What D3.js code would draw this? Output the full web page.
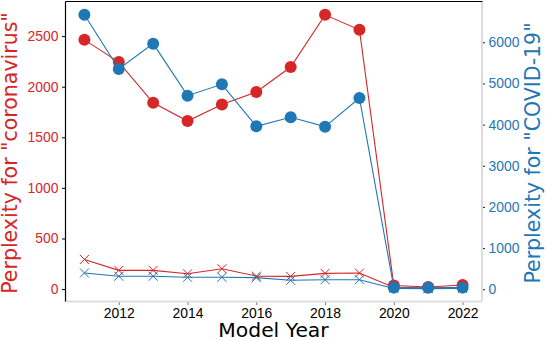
<!DOCTYPE html>
<html>
<head>
<meta charset="utf-8">
<script src="https://cdn.jsdelivr.net/npm/d3@7"></script>
<style>
  body{margin:0;background:#fff;}
  svg{display:block;font-family:"DejaVu Sans",sans-serif;}
</style>
</head>
<body>
<svg id="chart" width="546" height="340"></svg>
<script>
/* ---------- data ---------- */
const years       = [2011,2012,2013,2014,2015,2016,2017,2018,2019,2020,2021,2022];
const coronaDot   = [2463,2243,1841,1660,1825,1947,2194,2710,2562,35,20,40];   // left axis, circles
const coronaCross = [293,185,185,151,201,128,125,155,158,15,10,15];            // left axis, crosses
const covidDot    = [6670,5351,5966,4703,4979,3959,4178,3950,4647,40,35,40];   // right axis, circles
const covidCross  = [396,316,316,291,291,282,218,233,233,20,15,20];            // right axis, crosses
const xTicks      = [2012,2014,2016,2018,2020,2022];
const leftTicks   = [0,500,1000,1500,2000,2500];
const rightTicks  = [0,1000,2000,3000,4000,5000,6000];

const RED="#d62728", BLUE="#1f77b4";

/* ---------- layout ---------- */
const L=65.5, R=481.5, T=1.5, B=301.5;
const svg=d3.select("#chart");

const x =d3.scaleLinear().domain([2010.45,2022.55]).range([L,R]);
const yL=d3.scaleLinear().domain([-123,2842]).range([B,T]);
const yR=d3.scaleLinear().domain([-297,6990]).range([B,T]);

/* ---------- axes ---------- */
const gx=svg.append("g").attr("transform",`translate(0,${B})`)
  .call(d3.axisBottom(x).tickValues(xTicks).tickFormat(d3.format("d")).tickSize(3.5).tickPadding(3.5));
gx.select(".domain").remove();
gx.selectAll("line").attr("stroke","#777");
gx.selectAll("text").attr("fill","#000").style("font-size","13.9px");

const gl=svg.append("g").attr("transform",`translate(${L},0)`)
  .call(d3.axisLeft(yL).tickValues(leftTicks).tickFormat(d3.format("d")).tickSize(3.5).tickPadding(3.5));
gl.select(".domain").remove();
gl.selectAll("line").attr("stroke","#000");
gl.selectAll("text").attr("fill",RED).style("font-size","13.9px");

const gr=svg.append("g").attr("transform",`translate(${R},0)`)
  .call(d3.axisRight(yR).tickValues(rightTicks).tickFormat(d3.format("d")).tickSize(3.5).tickPadding(3.5));
gr.select(".domain").remove();
gr.selectAll("line").attr("stroke","#222");
gr.selectAll("text").attr("fill",BLUE).style("font-size","13.9px");

/* ---------- spines ---------- */
svg.append("line").attr("x1",R+0.5).attr("x2",R+0.5).attr("y1",T).attr("y2",B)
   .attr("stroke","#ddd").attr("stroke-width",2);
svg.append("line").attr("x1",L).attr("x2",R).attr("y1",B).attr("y2",B)
   .attr("stroke","#ddd").attr("stroke-width",2);
svg.append("line").attr("x1",L).attr("x2",L).attr("y1",T).attr("y2",B)
   .attr("stroke","#000").attr("stroke-width",1.2);
svg.append("line").attr("x1",L).attr("x2",R+1).attr("y1",T).attr("y2",T)
   .attr("stroke","#000").attr("stroke-width",1.2);

/* ---------- series ---------- */
function series(vals,y,color,marker){
  const pts=years.map((yr,i)=>[x(yr),y(vals[i])]);
  const g=svg.append("g");
  g.append("path").attr("d",d3.line()(pts)).attr("fill","none")
   .attr("stroke",color).attr("stroke-width",1.1);
  if(marker==="o"){
    g.selectAll("circle").data(pts).join("circle")
     .attr("cx",d=>d[0]).attr("cy",d=>d[1]).attr("r",6).attr("fill",color);
  }else{
    const s=4.5;
    g.selectAll("path.x").data(pts).join("path").attr("class","x")
     .attr("d",d=>`M${d[0]-s},${d[1]-s}L${d[0]+s},${d[1]+s}M${d[0]-s},${d[1]+s}L${d[0]+s},${d[1]-s}`)
     .attr("stroke",color).attr("stroke-width",1).attr("fill","none");
  }
}
series(coronaDot,yL,RED,"o");
series(coronaCross,yL,RED,"x");
series(covidDot,yR,BLUE,"o");
series(covidCross,yR,BLUE,"x");

/* ---------- labels ---------- */
svg.append("text").attr("x",(L+R)/2).attr("y",337).attr("text-anchor","middle")
   .style("font-size","20.3px").attr("fill","#000").text("Model Year");
svg.append("text").attr("transform","translate(17,153) rotate(-90)").attr("text-anchor","middle")
   .style("font-size","20.5px").attr("fill",RED).text('Perplexity for "coronavirus"');
svg.append("text").attr("transform","translate(540,153) rotate(-90)").attr("text-anchor","middle")
   .style("font-size","20.5px").attr("fill",BLUE).text('Perplexity for "COVID-19"');
</script>
</body>
</html>
